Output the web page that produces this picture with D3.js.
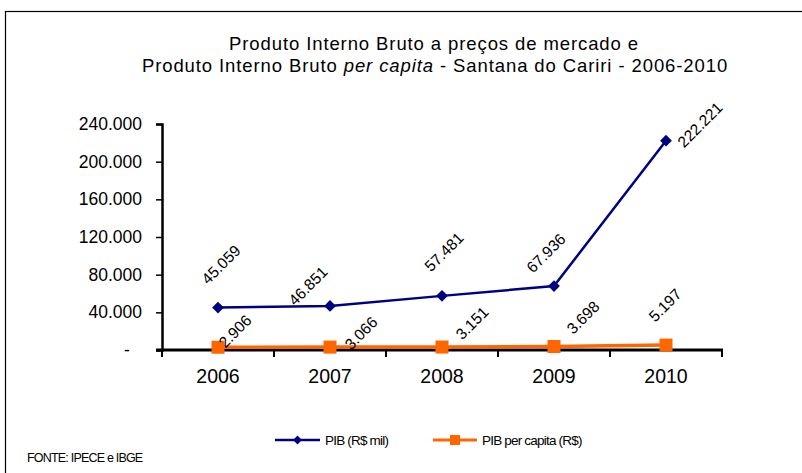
<!DOCTYPE html>
<html>
<head>
<meta charset="utf-8">
<script src="https://cdn.jsdelivr.net/npm/d3@7"></script>
<style>
  body { margin: 0; background: #fff; }
  text { font-family: "Liberation Sans", Arial, sans-serif; fill: #000; }
</style>
</head>
<body>
<div id="chart"></div>
<script>
// data
var years = ["2006", "2007", "2008", "2009", "2010"];
var pibMil = [45059, 46851, 57481, 67936, 222221];
var pibPerCapita = [2906, 3066, 3151, 3698, 5197];
var yTicks = [0, 40000, 80000, 120000, 160000, 200000, 240000];
var seriesNames = ["PIB (R$ mil)", "PIB per capita (R$)"];

// where each data label sits relative to its point (hand placed, like in the original)
var pibLabelOffset = [[3, -43], [-22, -20], [2, -44], [-8, -33], [34, -16]];
var capitaLabelOffset = [[17, -16], [31, -14], [30, -24], [29, -29], [-1, -40]];

var svgWidth = 802, svgHeight = 473;
var svg = d3.select("#chart").append("svg")
    .attr("width", svgWidth)
    .attr("height", svgHeight);

// outer frame of the chart area
svg.append("rect")
    .attr("x", 5.5).attr("y", 11.5)
    .attr("width", 820).attr("height", 480)
    .attr("fill", "none")
    .attr("stroke", "#000")
    .attr("stroke-width", 1.2);

// title
var title = svg.append("text")
    .attr("text-anchor", "middle")
    .attr("font-size", 18.5)
    .attr("letter-spacing", 0.9);
title.append("tspan").attr("x", 434).attr("y", 50)
    .text("Produto Interno  Bruto a preços de mercado  e");
var t2 = title.append("tspan").attr("x", 435).attr("y", 72);
t2.append("tspan").text("Produto Interno Bruto ");
t2.append("tspan").attr("font-style", "italic").text("per capita");
t2.append("tspan").text(" - Santana do Cariri - 2006-2010");

var plotLeft = 162, plotRight = 722, plotTop = 124, plotBottom = 350;

var x = d3.scaleBand().domain(years).range([plotLeft, plotRight]);
var y = d3.scaleLinear().domain([0, 240000]).range([plotBottom, plotTop]);

// numbers with "." as thousands separator
function thousands(d) { return d3.format(",")(d).replace(/,/g, "."); }
function yLabel(d) { return d === 0 ? "-" : thousands(d); }

// y axis
var yAxis = svg.append("g")
    .attr("transform", "translate(" + plotLeft + ",0)")
    .call(d3.axisLeft(y).tickValues(yTicks).tickSize(6).tickPadding(14).tickFormat(yLabel));
yAxis.select(".domain").attr("stroke-width", 2.5);
yAxis.selectAll(".tick line").attr("stroke-width", 1.5);
yAxis.selectAll("text").attr("font-size", 17.5).attr("font-family", "Liberation Sans, Arial, sans-serif").attr("fill", "#000");
yAxis.selectAll(".tick").filter(function(d) { return d === 0; }).select("text")
    .attr("x", -35).attr("text-anchor", "middle");

// x axis: ticks sit between categories
var xAxisG = svg.append("g").attr("transform", "translate(0," + plotBottom + ")");
xAxisG.append("line")
    .attr("x1", plotLeft - 6).attr("x2", plotRight + 1)
    .attr("stroke", "#000").attr("stroke-width", 3);
var bounds = years.map(function(d) { return x(d); }).concat([x(years[years.length - 1]) + x.bandwidth()]);
xAxisG.selectAll(".xtick").data(bounds).enter().append("line")
    .attr("x1", function(d) { return d; }).attr("x2", function(d) { return d; })
    .attr("y1", 0).attr("y2", 7)
    .attr("stroke", "#000").attr("stroke-width", 2);
xAxisG.selectAll(".xlabel").data(years).enter().append("text")
    .attr("x", function(d) { return x(d) + x.bandwidth() / 2; })
    .attr("y", 33)
    .attr("text-anchor", "middle")
    .attr("font-size", 19.5)
    .text(function(d) { return d; });

function cx(i) { return x(years[i]) + x.bandwidth() / 2; }

var line = d3.line()
    .x(function(d, i) { return cx(i); })
    .y(function(d) { return y(d); });

// PIB per capita (orange squares)
svg.append("path")
    .datum(pibPerCapita)
    .attr("d", line)
    .attr("fill", "none")
    .attr("stroke", "#ff6600")
    .attr("stroke-width", 3.5);
svg.selectAll(".sq").data(pibPerCapita).enter().append("rect")
    .attr("x", function(d, i) { return cx(i) - 6.5; })
    .attr("y", function(d) { return y(d) - 6.5; })
    .attr("width", 13).attr("height", 13)
    .attr("fill", "#ff6600");

// PIB (blue diamonds)
svg.append("path")
    .datum(pibMil)
    .attr("d", line)
    .attr("fill", "none")
    .attr("stroke", "#000080")
    .attr("stroke-width", 2.5);
svg.selectAll(".dia").data(pibMil).enter().append("path")
    .attr("d", d3.symbol().type(d3.symbolDiamond2).size(88))
    .attr("transform", function(d, i) { return "translate(" + cx(i) + "," + y(d) + ")"; })
    .attr("fill", "#000080");

// data labels, rotated
svg.selectAll(".lblPib").data(pibMil).enter().append("text")
    .attr("transform", function(d, i) {
        return "translate(" + (cx(i) + pibLabelOffset[i][0]) + "," + (y(d) + pibLabelOffset[i][1]) + ") rotate(-45)";
    })
    .attr("text-anchor", "middle")
    .attr("dy", "0.35em")
    .attr("font-size", 15.5)
    .text(thousands);
svg.selectAll(".lblCap").data(pibPerCapita).enter().append("text")
    .attr("transform", function(d, i) {
        return "translate(" + (cx(i) + capitaLabelOffset[i][0]) + "," + (y(d) + capitaLabelOffset[i][1]) + ") rotate(-45)";
    })
    .attr("text-anchor", "middle")
    .attr("dy", "0.35em")
    .attr("font-size", 15.5)
    .text(thousands);

// legend
var legend = svg.append("g").attr("transform", "translate(0,440)");
var legendItems = [
    {name: seriesNames[0], color: "#000080", x: 275, w: 45, mark: "diamond"},
    {name: seriesNames[1], color: "#ff6600", x: 433, w: 44, mark: "square"}
];
legendItems.forEach(function(it) {
    legend.append("line")
        .attr("x1", it.x).attr("x2", it.x + it.w)
        .attr("stroke", it.color).attr("stroke-width", it.mark === "square" ? 3 : 2.5);
    if (it.mark === "diamond") {
        legend.append("path")
            .attr("d", d3.symbol().type(d3.symbolDiamond2).size(50))
            .attr("transform", "translate(" + (it.x + it.w / 2) + ",0)")
            .attr("fill", it.color);
    } else {
        legend.append("rect")
            .attr("x", it.x + it.w / 2 - 5).attr("y", -5)
            .attr("width", 10).attr("height", 10)
            .attr("fill", it.color);
    }
    legend.append("text")
        .attr("x", it.x + it.w + 5)
        .attr("y", 4.5)
        .attr("font-size", 13.5)
        .attr("letter-spacing", -0.8)
        .text(it.name);
});

// source note
svg.append("text")
    .attr("x", 27).attr("y", 462)
    .attr("font-size", 12.5)
    .attr("letter-spacing", -0.8)
    .text("FONTE: IPECE e IBGE");
</script>
</body>
</html>
